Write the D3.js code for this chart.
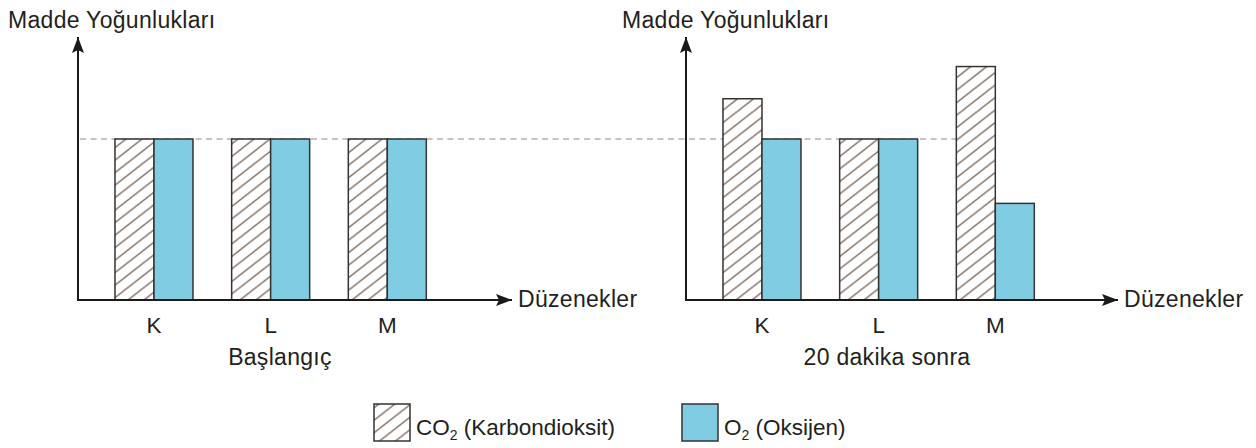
<!DOCTYPE html>
<html>
<head>
<meta charset="utf-8">
<script src="https://cdn.jsdelivr.net/npm/d3@7"></script>
<style>
  html, body { margin: 0; padding: 0; background: #fff; }
  svg { display: block; }
  text { font-family: "Liberation Sans", Arial, Helvetica, sans-serif; fill: #231f20; }
</style>
</head>
<body>
<svg id="chart" width="1256" height="448"></svg>
<script>
// ---- data ----
const categories = ["K", "L", "M"];
const panelTitles = ["Başlangıç", "20 dakika sonra"];
const yAxisLabel = "Madde Yoğunlukları";
const xAxisLabel = "Düzenekler";
const co2Start = [10, 10, 10];
const o2Start = [10, 10, 10];
const co2After = [12.5, 10, 14.5];
const o2After = [10, 10, 6];
const referenceLevel = 10;
const legendLabels = [["CO", "2", " (Karbondioksit)"], ["O", "2", " (Oksijen)"]];

const svg = d3.select("#chart");
const HATCH = "#8f7a6e", BLUE = "#80cde3", EDGE = "#333333";

const defs = svg.append("defs");
const pat = defs.append("pattern")
  .attr("id", "hatch").attr("patternUnits", "userSpaceOnUse")
  .attr("width", 16).attr("height", 12.5);
pat.append("rect").attr("width", 16).attr("height", 12.5).attr("fill", "#fff");
pat.append("path").attr("d", "M-4,15.6 L20,-3.1 M-20,15.6 L4,-3.1 M12,15.6 L36,-3.1")
  .attr("stroke", HATCH).attr("stroke-width", 1.6).attr("fill", "none");

defs.append("marker").attr("id", "arrow")
  .attr("viewBox", "0 0 16 12").attr("refX", 16).attr("refY", 6)
  .attr("markerUnits", "userSpaceOnUse")
  .attr("markerWidth", 16).attr("markerHeight", 12).attr("orient", "auto")
  .append("path").attr("d", "M0,0 L16,6 L0,12 L3,6 Z").attr("fill", "#1a1a1a");

const y = d3.scaleLinear().domain([0, 10]).range([300, 139]);
const baseY = y(0);

const panels = [
  { x0: 78, xEnd: 512, co2: co2Start, o2: o2Start, title: panelTitles[0], titleX: 280, labelX: 8 },
  { x0: 686, xEnd: 1118, co2: co2After, o2: o2After, title: panelTitles[1], titleX: 887, labelX: 622 }
];

// dashed reference line (continuous across both panels)
svg.append("line")
  .attr("x1", 80).attr("x2", 957)
  .attr("y1", y(referenceLevel)).attr("y2", y(referenceLevel))
  .attr("stroke", "#b3b3b3").attr("stroke-width", 1.6)
  .attr("stroke-dasharray", "6 4.5");

panels.forEach(p => {
  const xb = d3.scaleBand().domain(categories)
    .range([p.x0, p.x0 + 385.3]).paddingInner(0.3314).paddingOuter(0.317);
  const xs = d3.scaleBand().domain(["co2", "o2"]).range([0, xb.bandwidth()]);
  const g = svg.append("g");

  categories.forEach((c, i) => {
    g.append("rect")
      .attr("x", xb(c) + xs("co2")).attr("y", y(p.co2[i]))
      .attr("width", xs.bandwidth()).attr("height", baseY - y(p.co2[i]))
      .attr("fill", "url(#hatch)").attr("stroke", EDGE).attr("stroke-width", 1.5);
    g.append("rect")
      .attr("x", xb(c) + xs("o2")).attr("y", y(p.o2[i]))
      .attr("width", xs.bandwidth()).attr("height", baseY - y(p.o2[i]))
      .attr("fill", BLUE).attr("stroke", EDGE).attr("stroke-width", 1.5);
    g.append("text")
      .attr("x", xb(c) + xb.bandwidth() / 2).attr("y", 333)
      .attr("text-anchor", "middle").attr("font-size", 22.5).text(c);
  });

  // axes
  svg.append("line").attr("x1", p.x0).attr("y1", baseY).attr("x2", p.x0).attr("y2", 37)
    .attr("stroke", "#1a1a1a").attr("stroke-width", 2).attr("marker-end", "url(#arrow)");
  svg.append("line").attr("x1", p.x0 - 1).attr("y1", baseY).attr("x2", p.xEnd).attr("y2", baseY)
    .attr("stroke", "#1a1a1a").attr("stroke-width", 2).attr("marker-end", "url(#arrow)");

  svg.append("text").attr("x", p.labelX).attr("y", 28)
    .attr("font-size", 23).attr("letter-spacing", 0.3).text(yAxisLabel);
  svg.append("text").attr("x", p.xEnd + 6).attr("y", 306.5)
    .attr("font-size", 23).attr("letter-spacing", 0.3).text(xAxisLabel);
  svg.append("text").attr("x", p.titleX).attr("y", 365)
    .attr("text-anchor", "middle").attr("font-size", 23).attr("letter-spacing", 0.3).text(p.title);
});

// legend
const legendItems = [
  { x: 374, fill: "url(#hatch)", label: legendLabels[0] },
  { x: 682, fill: BLUE, label: legendLabels[1] }
];
legendItems.forEach(it => {
  svg.append("rect").attr("x", it.x).attr("y", 404).attr("width", 36).attr("height", 37)
    .attr("fill", it.fill).attr("stroke", EDGE).attr("stroke-width", 1.5);
  const t = svg.append("text").attr("x", it.x + 42).attr("y", 435)
    .attr("font-size", 22.5);
  t.append("tspan").text(it.label[0]);
  t.append("tspan").attr("font-size", 14).attr("dy", 5).text(it.label[1]);
  t.append("tspan").attr("dy", -5).text(it.label[2]);
});
</script>
</body>
</html>
